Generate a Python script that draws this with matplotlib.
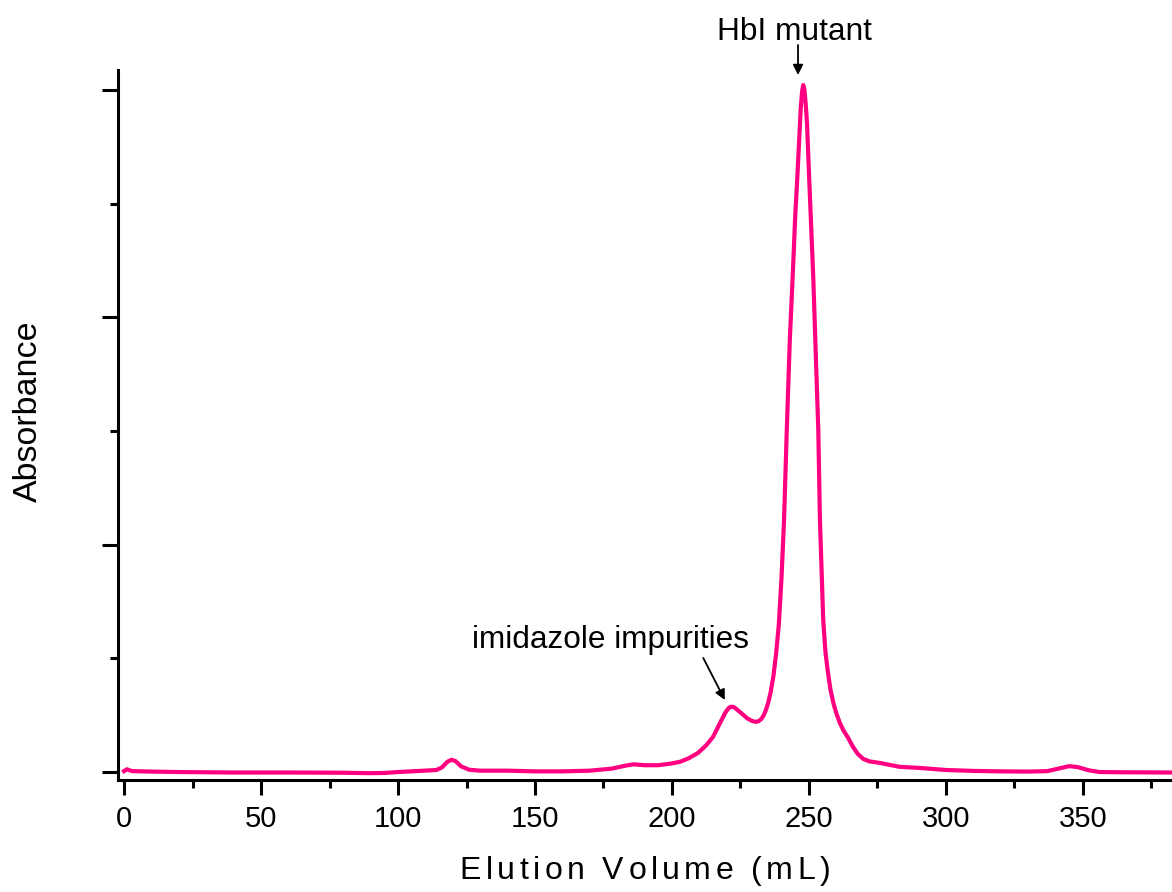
import matplotlib
matplotlib.use('Agg')
import matplotlib.pyplot as plt
from matplotlib.ticker import MultipleLocator
from matplotlib.font_manager import FontProperties, findfont, get_font

plt.rcParams['font.family'] = ['Liberation Sans', 'DejaVu Sans']

# Elution volume (mL) and absorbance (arbitrary units)
volume = [0, 1, 3, 10, 20, 40, 60, 80, 90, 95, 100, 108, 114, 116, 118, 119.5,
          121, 123, 126, 130, 140, 150, 160, 170, 178, 183, 186, 190, 195, 200,
          202.9, 206, 209.5, 212.5, 215, 217.5, 219.5, 220.6, 221.4, 222.3, 223,
          225, 227.5, 229, 230.3, 231.5, 232.5, 233.4, 234.2, 235, 236, 237,
          238, 239, 240, 240.9, 241.9, 243, 244, 245, 245.7, 246.5, 247.0,
          247.5, 247.9, 248.3, 248.8, 249.3, 250.1, 250.8, 251.6, 252.5, 253.4,
          254.0, 255.2, 256.0, 256.8, 257.8, 258.9, 260, 261.2, 262.5, 264.3,
          266, 267.8, 269.8, 272, 275.9, 283, 290.5, 300, 310, 320, 330, 337,
          341, 345, 348, 352, 356, 365, 383]
absorbance = [0.004, 0.012, 0.004, 0.002, 0.0, -0.002, -0.002, -0.003, -0.005,
              -0.004, 0.0, 0.005, 0.009, 0.02, 0.045, 0.054, 0.048, 0.025, 0.010,
              0.006, 0.006, 0.003, 0.003, 0.006, 0.015, 0.028, 0.034, 0.030,
              0.030, 0.038, 0.045, 0.060, 0.084, 0.118, 0.155, 0.215, 0.262,
              0.280, 0.287, 0.287, 0.282, 0.262, 0.236, 0.226, 0.221, 0.223,
              0.232, 0.248, 0.270, 0.300, 0.350, 0.420, 0.520, 0.650, 0.86,
              1.109, 1.505, 1.90, 2.165, 2.45, 2.604, 2.80, 2.92, 2.995, 3.022,
              3.005, 2.94, 2.85, 2.604, 2.40, 2.165, 1.83, 1.505, 1.109, 0.669,
              0.530, 0.449, 0.365, 0.304, 0.258, 0.218, 0.185, 0.150, 0.112,
              0.080, 0.058, 0.047, 0.040, 0.023, 0.018, 0.009, 0.005, 0.003,
              0.002, 0.004, 0.015, 0.026, 0.022, 0.008, 0.0, -0.001, -0.002]

W, H = 1172, 892
fig = plt.figure(figsize=(W / 100, H / 100), dpi=100)
ax = fig.add_axes([118 / W, 112 / H, (W - 118) / W, 710 / H])

ax.plot(volume, absorbance, color='#FF0080', lw=3, solid_joinstyle='round')

ax.set_xlim(-2.2, 382.5)
ax.set_ylim(-0.035, 3.088)

for side in ['top', 'right']:
    ax.spines[side].set_visible(False)
for side in ['left', 'bottom']:
    ax.spines[side].set_linewidth(2.2)

ax.xaxis.set_major_locator(MultipleLocator(50))
ax.xaxis.set_minor_locator(MultipleLocator(25))
ax.yaxis.set_major_locator(MultipleLocator(1))
ax.yaxis.set_minor_locator(MultipleLocator(0.5))
ax.tick_params(axis='x', which='major', direction='out', length=10.8, width=2.2,
               labelsize=21, pad=7)
ax.tick_params(axis='x', which='minor', direction='out', length=5.8, width=2.2)
ax.tick_params(axis='y', which='major', direction='out', length=11.5, width=2.2,
               labelleft=False)
ax.tick_params(axis='y', which='minor', direction='out', length=5.8, width=2.2)

# annotations
ax.annotate('', xy=(246.0, 3.066), xytext=(246.0, 3.198),
            arrowprops=dict(arrowstyle='-|>', color='black', lw=1.3,
                            mutation_scale=15, shrinkA=0, shrinkB=0),
            annotation_clip=False)
ax.text(244.7, 3.22, 'HbI mutant', fontsize=22.8, ha='center', va='baseline',
        clip_on=False)
ax.annotate('', xy=(219.3, 0.317), xytext=(211.4, 0.502),
            arrowprops=dict(arrowstyle='-|>', color='black', lw=1.3,
                            mutation_scale=15, shrinkA=0, shrinkB=0))
ax.text(177.7, 0.546, 'imidazole impurities', fontsize=22.7, ha='center',
        va='baseline')

fig.text(28 / W, 1 - 411 / H, 'Absorbance', fontsize=24.5, rotation=90,
         ha='center', va='center')


def tracked_text(s, xc, baseline, size, track):
    # letter-spaced label, positions in pixels
    fp = FontProperties(family='Liberation Sans', size=size)
    font = get_font(findfont(fp))
    font.set_size(size, fig.dpi)
    adv = [font.load_char(ord(c)).linearHoriAdvance / 65536 for c in s]
    x = xc - (sum(adv) + track * (len(s) - 1)) / 2
    for c, a in zip(s, adv):
        fig.text(x / W, 1 - baseline / H, c, fontproperties=fp,
                 ha='left', va='baseline')
        x += a + track


tracked_text('Elution Volume (mL)', 645, 879, 23, 4.5)

fig.savefig('out.png', dpi=100)
